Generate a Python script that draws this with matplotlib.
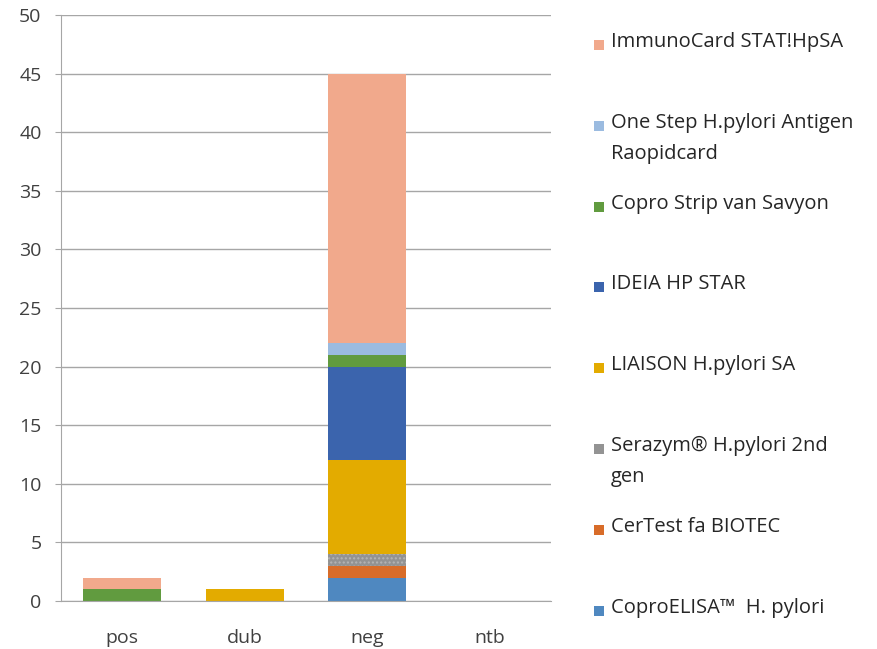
import matplotlib.pyplot as plt
import numpy as np
from matplotlib.patches import Rectangle

categories = ['pos', 'dub', 'neg', 'ntb']

# series from bottom to top of the stack
series = ['CoproELISA™  H. pylori', 'CerTest fa BIOTEC', 'Serazym® H.pylori 2nd\ngen',
          'LIAISON H.pylori SA', 'IDEIA HP STAR', 'Copro Strip van Savyon',
          'One Step H.pylori Antigen\nRaopidcard', 'ImmunoCard STAT!HpSA']
values = [
    [0, 0, 2, 0],
    [0, 0, 1, 0],
    [0, 0, 1, 0],
    [0, 1, 8, 0],
    [0, 0, 8, 0],
    [1, 0, 1, 0],
    [0, 0, 1, 0],
    [1, 0, 23, 0],
]
colors = ['#4f88c0', '#d86c29', '#939393', '#e3ab00', '#3b64ad', '#619b3f', '#9bbbe0', '#f1a98c']

plt.rcParams['font.family'] = ['Open Sans', 'DejaVu Sans']

fig = plt.figure(figsize=(8.77, 6.49), dpi=100)
ax = fig.add_axes([0.0696, 0.074, 0.5587, 0.903])

x = np.arange(len(categories))
bottom = np.zeros(len(categories))
for name, vals, c in zip(series, values, colors):
    vals = np.array(vals, dtype=float)
    if name.startswith('Serazym'):
        ax.bar(x, vals, 0.64, bottom=bottom, color=c, hatch='....', edgecolor='#b5b5b5', linewidth=0)
    else:
        ax.bar(x, vals, 0.64, bottom=bottom, color=c, linewidth=0)
    bottom += vals

ax.set_xlim(-0.5, 3.5)
ax.set_ylim(0, 50)
ax.set_yticks(range(0, 51, 5))
ax.yaxis.grid(True, color='#a6a6a6', linewidth=1)
ax.set_axisbelow(True)
for s in ['top', 'right']:
    ax.spines[s].set_visible(False)
ax.spines['left'].set_color('#a6a6a6')
ax.spines['bottom'].set_color('#a6a6a6')
ax.tick_params(axis='y', length=4, color='#a6a6a6', labelsize=14, labelcolor='#404040', pad=10)
ax.tick_params(axis='x', length=0, labelsize=14, labelcolor='#404040', pad=20)
ax.set_xticks(x)
ax.set_xticklabels(categories)

# legend drawn by hand, top entry = top of stack
W, H = 877, 649
for i, idx in enumerate(range(len(series) - 1, -1, -1)):
    yc = 45 + 80.8 * i
    fig.patches.append(Rectangle((594 / W, 1 - (yc + 5) / H), 10 / W, 10 / H,
                                 transform=fig.transFigure, color=colors[idx],
                                 hatch='....' if idx == 2 else None,
                                 edgecolor='#b5b5b5' if idx == 2 else None, linewidth=0))
    fig.text(611 / W, 1 - (yc - 13) / H, series[idx], fontsize=14.5, color='#262626',
             va='top', ha='left', linespacing=1.75)

fig.savefig('out.png', dpi=100)
